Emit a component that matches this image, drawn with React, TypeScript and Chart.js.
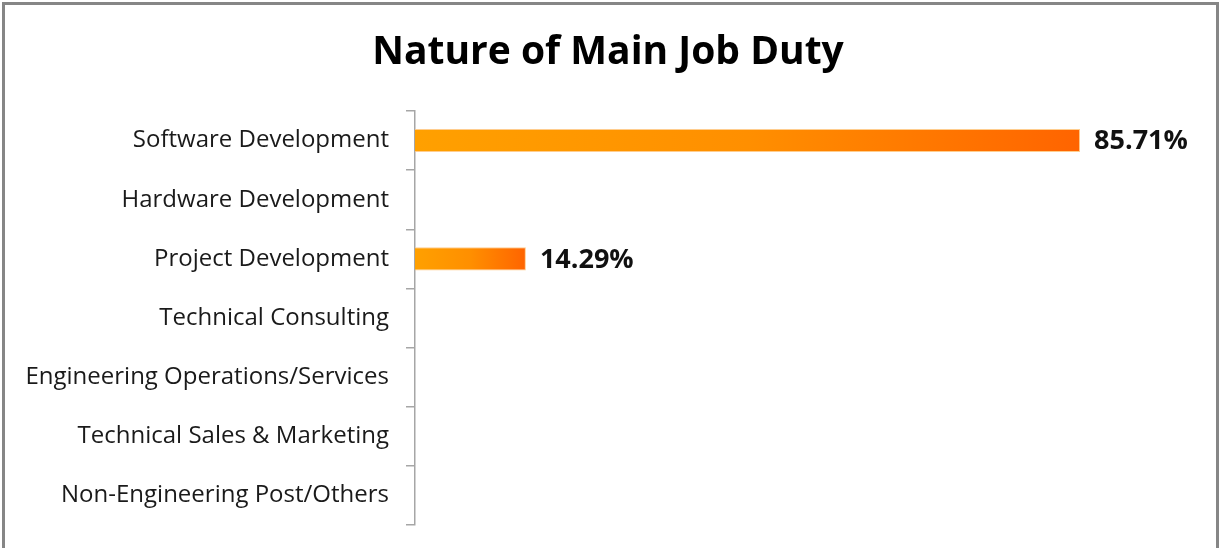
import React, { useEffect, useRef } from "react";
import { Chart, registerables } from "chart.js";

Chart.register(...registerables);

const TITLE = "Nature of Main Job Duty";
const categories = [
  "Software Development",
  "Hardware Development",
  "Project Development",
  "Technical Consulting",
  "Engineering Operations/Services",
  "Technical Sales & Marketing",
  "Non-Engineering Post/Others",
];
const values = [85.71, 0, 14.29, 0, 0, 0, 0];
const valueLabels = ["85.71%", "", "14.29%", "", "", "", ""];

const FONT = "'Open Sans', 'Noto Sans', sans-serif";

const framePlugin = {
  id: "frameAndTitle",
  beforeDraw(chart: any) {
    const ctx = chart.ctx;
    ctx.save();
    ctx.fillStyle = "#ffffff";
    ctx.fillRect(0, 0, chart.width, chart.height);
    ctx.strokeStyle = "#868686";
    ctx.lineWidth = 3;
    ctx.strokeRect(3.5, 3.5, chart.width - 6, chart.height + 20);
    ctx.restore();
  },
  afterDraw(chart: any) {
    const ctx = chart.ctx;
    ctx.save();
    ctx.font = `bold 39px ${FONT}`;
    ctx.fillStyle = "#000000";
    ctx.textAlign = "center";
    ctx.textBaseline = "alphabetic";
    ctx.fillText(TITLE, 608, 64);
    ctx.restore();
  },
};

const valueLabelPlugin = {
  id: "valueLabels",
  afterDatasetsDraw(chart: any) {
    const ctx = chart.ctx;
    const meta = chart.getDatasetMeta(0);
    ctx.save();
    ctx.font = `bold 27px ${FONT}`;
    ctx.fillStyle = "#111111";
    ctx.textBaseline = "middle";
    ctx.textAlign = "left";
    meta.data.forEach((bar: any, i: number) => {
      const t = valueLabels[i];
      if (!t) return;
      ctx.fillText(t, bar.x + 14, bar.y + 1);
    });
    ctx.restore();
  },
};

export default function App() {
  const ref = useRef<HTMLCanvasElement | null>(null);
  useEffect(() => {
    document.body.style.margin = "0";
    const canvas = ref.current;
    if (!canvas) return;
    const chart = new Chart(canvas, {
      type: "bar",
      data: {
        labels: categories,
        datasets: [
          {
            data: values,
            backgroundColor: (context: any) => {
              const c = context.chart;
              const xs = c.scales?.x;
              if (!xs || context.type !== "data") return "#ff8c00";
              const x0 = xs.getPixelForValue(0);
              const x1 = xs.getPixelForValue(context.parsed?.x ?? values[context.dataIndex]);
              if (!isFinite(x0) || !isFinite(x1) || x1 - x0 < 1) return "#ff8c00";
              const g = c.ctx.createLinearGradient(x0, 0, x1, 0);
              g.addColorStop(0, "#ffa000");
              g.addColorStop(0.5, "#ff8f00");
              g.addColorStop(1, "#ff6400");
              return g;
            },
            borderColor: "rgba(255,200,130,0.9)",
            borderWidth: 1,
            categoryPercentage: 1,
            barPercentage: 0.39,
          },
        ],
      },
      options: {
        indexAxis: "y",
        animation: false,
        responsive: false,
        maintainAspectRatio: false,
        layout: { padding: { left: 0, right: 29, top: 111, bottom: 23 } },
        plugins: {
          legend: { display: false },
          tooltip: { enabled: false },
          title: { display: false },
        },
        scales: {
          x: {
            display: false,
            min: 0,
            max: 100,
          },
          y: {
            afterFit: (scale: any) => {
              scale.width = 415;
              scale.paddingTop = 0;
              scale.paddingBottom = 0;
            },
            grid: {
              drawOnChartArea: false,
              drawTicks: true,
              tickLength: 9,
              color: "#a6a6a6",
              lineWidth: 1.5,
            },
            border: { display: true, color: "#a6a6a6", width: 1.5 },
            ticks: {
              color: "#1a1a1a",
              padding: 17,
              font: { family: FONT, size: 24 },
            },
          },
        },
      },
      plugins: [framePlugin, valueLabelPlugin],
    });
    return () => chart.destroy();
  }, []);
  return (
    <div style={{ position: "relative", width: 1220, height: 548 }}>
      <canvas ref={ref} width={1220} height={548} style={{ display: "block", width: 1220, height: 548 }} />
    </div>
  );
}
